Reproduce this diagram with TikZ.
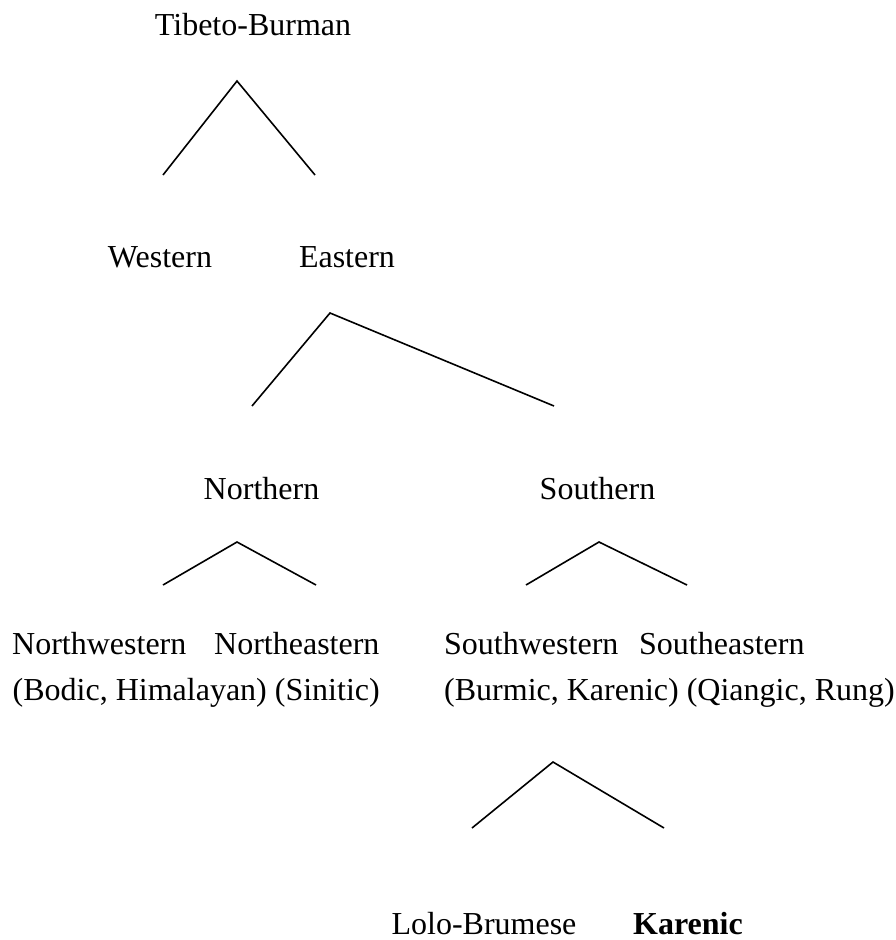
\documentclass[tikz,border=0pt]{standalone}
\usepackage{fontspec}
\setmainfont{Liberation Serif}
\begin{document}
\begin{tikzpicture}[x=1pt,y=-1pt,
  lbl/.style={inner sep=0pt,anchor=base,font=\fontsize{32}{38}\selectfont},
  lblw/.style={inner sep=0pt,anchor=base west,font=\fontsize{32}{38}\selectfont},
  branch/.style={draw=black,line width=1.6pt,line join=miter}]
\useasboundingbox (0,0) rectangle (895,940);
% labels
\node[lbl] (tb) at (253,35) {Tibeto-Burman};
\node[lbl] (west) at (160,267) {Western};
\node[lbl] (east) at (347,267) {Eastern};
\node[lbl] (north) at (261.5,499) {Northern};
\node[lbl] (south) at (597.5,499) {Southern};
\node[lblw] (nw) at (12,654) {Northwestern};
\node[lblw] (ne) at (214,654) {Northeastern};
\node[lblw] (sw) at (444,654) {Southwestern};
\node[lblw] (se) at (639,654) {Southeastern};
\node[lblw] (nsub) at (12.5,700) {(Bodic, Himalayan) (Sinitic)};
\node[lblw] (ssub) at (444,700) {(Burmic, Karenic) (Qiangic, Rung)};
\node[lbl] (lb) at (484,934) {Lolo-Brumese};
\node[lbl] (kar) at (688,934) {\bfseries Karenic};
% branch points
\coordinate (a1) at (237,81);  \coordinate (a1l) at (163,175); \coordinate (a1r) at (315,175);
\coordinate (a2) at (330,313); \coordinate (a2l) at (252,406); \coordinate (a2r) at (554,406);
\coordinate (a3) at (237,542); \coordinate (a3l) at (163,585); \coordinate (a3r) at (316,585);
\coordinate (a4) at (599,542); \coordinate (a4l) at (526,585); \coordinate (a4r) at (687,585);
\coordinate (a5) at (553,762); \coordinate (a5l) at (472,828); \coordinate (a5r) at (664,828);
\draw[branch] (a1l) -- (a1) -- (a1r);
\draw[branch] (a2l) -- (a2) -- (a2r);
\draw[branch] (a3l) -- (a3) -- (a3r);
\draw[branch] (a4l) -- (a4) -- (a4r);
\draw[branch] (a5l) -- (a5) -- (a5r);
\end{tikzpicture}
\end{document}
